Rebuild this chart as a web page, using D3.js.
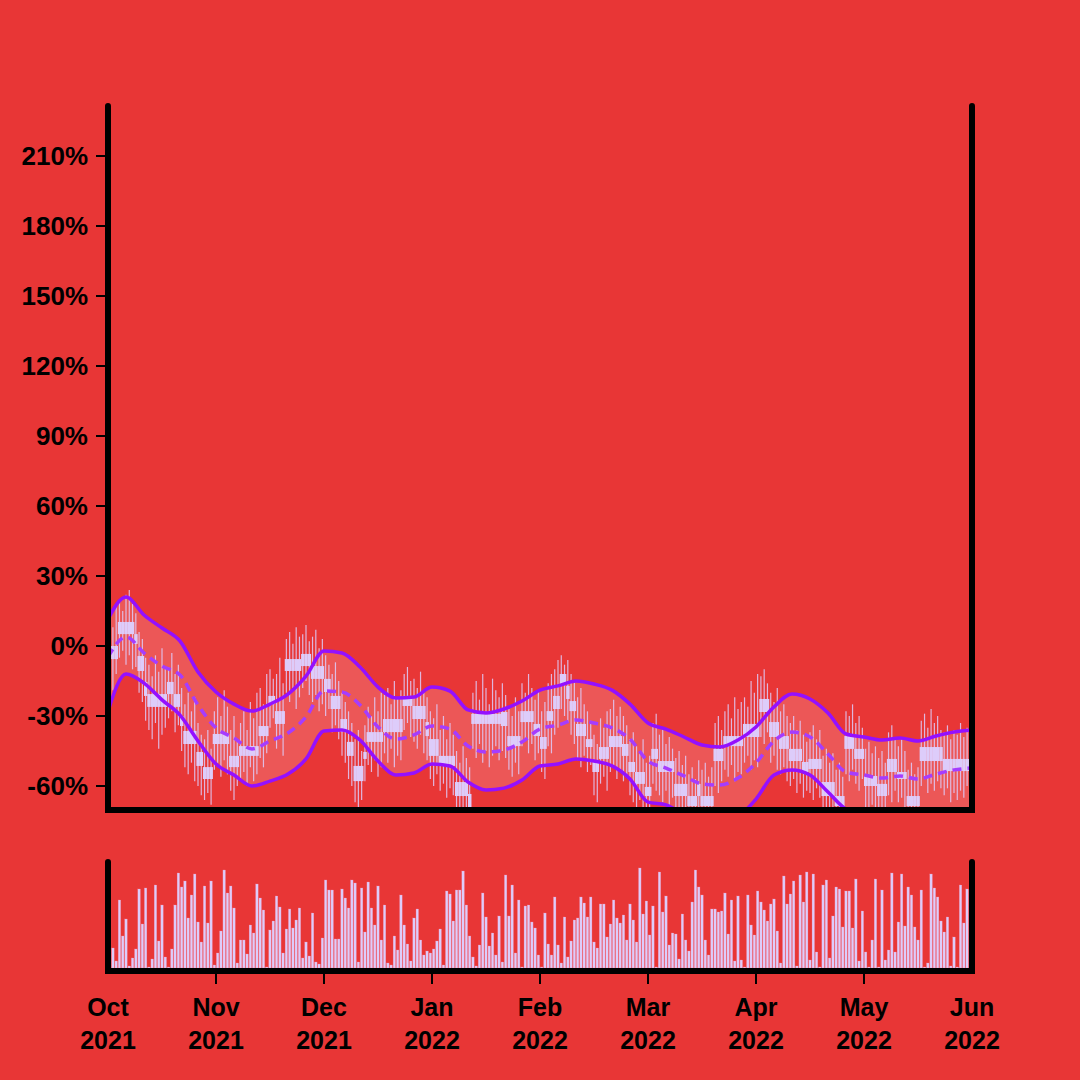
<!DOCTYPE html>
<html><head><meta charset="utf-8">
<script src="https://cdn.jsdelivr.net/npm/d3@7"></script>
<style>html,body{margin:0;padding:0;background:#e83636;}svg{display:block;}</style>
</head><body>
<svg id="c" width="1080" height="1080"></svg>
<script>
// ---- data ----
const months = ["Oct","Nov","Dec","Jan","Feb","Mar","Apr","May","Jun"];
const years  = ["2021","2021","2021","2022","2022","2022","2022","2022","2022"];
const yTicks = [-60,-30,0,30,60,90,120,150,180,210];
const barsPerMonth = 33;

const openV = [0,0,0,10.3,10.3,10.3,10.3,10.3,5.1,-4.3,-4.3,-15.4,-20.6,-20.6,-20.6,-20.6,-20.6,-20.6,-15.4,-15.4,
-20.6,-20.6,-30,-36.4,-36.4,-36.4,-36.4,-45.4,-45.4,-51.9,-51.9,-51.9,-37.7,-37.7,-37.7,-37.7,-37.7,-47.1,-47.1,-47.1,
-42.9,-42.9,-42.9,-42.9,-42.9,-42.9,-34.3,-34.3,-34.3,-21.4,-21.4,-27.9,-27.9,-27.9,-5.6,-5.6,-5.6,-5.6,-5.6,-3.4,
-3.4,-3.4,-8.6,-8.6,-8.6,-8.6,-14.1,-14.1,-21.4,-21.4,-21.4,-31.3,-31.3,-41.1,-41.1,-51.4,-51.4,-51.4,-45.4,-36.9,
-36.9,-36.9,-36.9,-36.9,-31.3,-31.3,-31.3,-31.3,-31.3,-31.3,-21.4,-21.4,-21.4,-25.7,-25.7,-25.7,-25.7,-32.6,-39.9,-39.9,
-39.9,-47.1,-47.1,-47.1,-47.1,-47.1,-58.3,-58.3,-58.3,-58.3,-63.4,-29.1,-29.1,-29.1,-29.1,-29.1,-29.1,-29.1,-29.1,-29.1,
-28.3,-28.3,-38.6,-38.6,-38.6,-38.6,-27.9,-27.9,-27.9,-27.9,-33.4,-33.4,-39,-39,-27.9,-27.9,-21.4,-21.4,-12,-12,
-17.1,-23.6,-23.6,-33.4,-33.4,-33.4,-39.9,-39.9,-49.7,-49.7,-43.3,-43.3,-43.3,-38.6,-38.6,-38.6,-38.6,-42,-42,-49.7,
-49.7,-54,-54,-54,-60.4,-60.4,-44.1,-44.1,-49.3,-49.3,-49.3,-49.3,-49.3,-59.1,-59.1,-59.1,-59.1,-64.3,-64.3,-64.3,
-59.1,-64.3,-64.3,-64.3,-64.3,-44.1,-44.1,-44.1,-38.6,-38.6,-38.6,-38.6,-38.6,-38.6,-33.4,-33.4,-33.4,-33.4,-33.4,-22.7,
-22.7,-22.7,-32.6,-32.6,-32.6,-38.6,-38.6,-38.6,-44.1,-44.1,-44.1,-44.1,-49.7,-49.7,-48.4,-48.4,-48.4,-48.4,-58.3,-58.3,
-58.3,-58.3,-64.3,-64.3,-64.3,-38.6,-38.6,-38.6,-44.1,-44.1,-44.1,-55.7,-55.7,-55.7,-55.7,-59.1,-59.1,-59.1,-48.4,-48.4,
-48.4,-54,-54,-54,-64.3,-64.3,-64.3,-64.3,-43.3,-43.3,-43.3,-43.3,-43.3,-43.3,-43.3,-48.4,-48.4,-48.4,-48.4,-48.4,
-48.4,-48.4,-48.4,-48.4];

const closeV = [-5.6,-5.6,-5.6,5.1,5.1,5.1,5.1,5.1,0.9,-10.7,-10.7,-21.4,-26.1,-26.1,-26.1,-26.1,-26.1,-26.1,-20.6,-20.6,
-26.1,-26.1,-34.3,-42,-42,-42,-42,-51.4,-51.4,-57,-57,-57,-42,-42,-42,-42,-42,-51.9,-51.9,-51.9,
-47.1,-47.1,-47.1,-47.1,-47.1,-47.1,-38.6,-38.6,-38.6,-24.9,-24.9,-33.4,-33.4,-33.4,-10.7,-10.7,-10.7,-10.7,-10.7,-8.6,
-8.6,-8.6,-14.1,-14.1,-14.1,-14.1,-19.7,-19.7,-27,-27,-27,-36.9,-36.9,-47.1,-47.1,-57.9,-57.9,-57.9,-48.4,-41.1,
-41.1,-41.1,-41.1,-41.1,-36.9,-36.9,-36.9,-36.9,-36.9,-36.9,-25.7,-25.7,-25.7,-31.3,-31.3,-31.3,-31.3,-38.6,-47.1,-47.1,
-47.1,-51.4,-51.4,-51.4,-51.4,-51.4,-64.3,-64.3,-64.3,-64.3,-69,-33.4,-33.4,-33.4,-33.4,-33.4,-33.4,-33.4,-33.4,-33.4,
-34.3,-34.3,-42.9,-42.9,-42.9,-42.9,-32.6,-32.6,-32.6,-32.6,-38.6,-38.6,-44.1,-44.1,-32.1,-32.1,-27,-27,-16.3,-16.3,
-22.7,-27.9,-27.9,-38.6,-38.6,-38.6,-43.3,-43.3,-54,-54,-48.4,-48.4,-48.4,-43.3,-43.3,-43.3,-43.3,-47.1,-47.1,-54,
-54,-59.1,-59.1,-59.1,-64.3,-64.3,-48.4,-48.4,-54,-54,-54,-54,-54,-64.3,-64.3,-64.3,-64.3,-68.6,-68.6,-68.6,
-64.3,-68.6,-68.6,-68.6,-68.6,-49.3,-49.3,-49.3,-42.9,-42.9,-42.9,-42.9,-42.9,-42.9,-39,-39,-39,-39,-39,-28.3,
-28.3,-28.3,-39,-39,-39,-44.1,-44.1,-44.1,-49.3,-49.3,-49.3,-49.3,-54,-54,-52.7,-52.7,-52.7,-52.7,-64.3,-64.3,
-64.3,-64.3,-68.6,-68.6,-68.6,-44.1,-44.1,-44.1,-48.4,-48.4,-48.4,-60,-60,-60,-60,-64.3,-64.3,-64.3,-54,-54,
-54,-57,-57,-57,-68.6,-68.6,-68.6,-68.6,-49.3,-49.3,-49.3,-49.3,-49.3,-49.3,-49.3,-53.6,-53.6,-53.6,-53.6,-53.6,
-53.6,-53.6,-53.6,-53.6];

const highV = [12,8,17,19,15,22,24,18,14,6,3,-5,-8,-13,-4,-11,-1,-9,-9,-3,
-12,-8,-18,-25,-20,-28,-22,-33,-38,-40,-36,-44,-28,-22,-30,-19,-26,-36,-30,-40,
-33,-28,-36,-24,-31,-20,-18,-25,-12,-10,-14,-12,-5,-16,3,6,1,8,4,5,
9,2,4,7,-1,3,-4,-8,-12,-7,-15,-20,-24,-28,-33,-40,-36,-45,-34,-26,
-30,-22,-28,-20,-21,-18,-25,-15,-22,-19,-12,-9,-15,-14,-18,-11,-20,-22,-28,-31,
-25,-36,-30,-40,-33,-38,-45,-50,-43,-48,-52,-20,-15,-23,-12,-18,-25,-14,-19,-22,
-16,-21,-27,-30,-22,-28,-16,-20,-12,-18,-23,-19,-28,-24,-16,-12,-10,-6,-4,-8,
-6,-12,-15,-22,-18,-25,-28,-32,-38,-42,-31,-35,-28,-27,-23,-30,-26,-30,-34,-40,
-37,-43,-46,-40,-50,-47,-33,-29,-38,-35,-42,-39,-44,-48,-45,-51,-47,-55,-52,-57,
-49,-53,-50,-56,-52,-33,-30,-36,-28,-25,-31,-22,-27,-24,-22,-26,-15,-20,-12,-13,
-10,-16,-20,-24,-18,-28,-25,-30,-33,-30,-36,-32,-38,-41,-37,-34,-40,-36,-47,-44,
-50,-46,-53,-50,-56,-28,-30,-25,-33,-30,-35,-44,-41,-46,-43,-48,-45,-50,-37,-34,
-40,-43,-40,-45,-53,-50,-55,-52,-32,-29,-35,-27,-33,-30,-36,-37,-34,-40,-36,-38,
-33,-39,-35,-30];

const lowV = [-14,-19,-12,-5,-2,-8,-4,-10,-9,-20,-24,-32,-36,-40,-33,-44,-38,-35,-31,-28,
-37,-34,-45,-52,-55,-50,-58,-60,-64,-66,-63,-68,-53,-50,-56,-49,-55,-62,-66,-60,
-57,-54,-60,-52,-58,-55,-48,-52,-46,-35,-31,-44,-40,-47,-20,-24,-18,-27,-22,-18,
-15,-21,-24,-21,-28,-25,-30,-27,-37,-34,-40,-47,-50,-57,-60,-67,-70,-66,-58,-51,
-54,-49,-56,-52,-46,-50,-44,-52,-47,-49,-36,-33,-39,-41,-44,-38,-46,-49,-57,-60,
-55,-62,-59,-65,-61,-64,-72,-70,-73,-71,-74,-44,-48,-42,-50,-45,-52,-47,-43,-49,
-45,-48,-53,-56,-50,-55,-43,-40,-46,-42,-49,-46,-54,-57,-43,-46,-38,-35,-27,-30,
-33,-38,-42,-49,-52,-47,-54,-51,-64,-67,-59,-56,-62,-54,-51,-57,-53,-58,-55,-64,
-67,-69,-66,-71,-72,-74,-59,-62,-64,-67,-62,-68,-65,-72,-74,-71,-73,-74,-73,-75,
-72,-74,-73,-75,-74,-60,-63,-58,-53,-56,-51,-58,-54,-55,-50,-47,-53,-49,-52,-39,
-42,-37,-50,-47,-53,-55,-52,-58,-60,-57,-63,-59,-65,-62,-63,-66,-61,-65,-72,-74,
-71,-73,-74,-73,-75,-55,-58,-53,-59,-62,-57,-69,-71,-68,-72,-72,-74,-73,-64,-67,
-62,-67,-65,-69,-74,-73,-75,-74,-60,-57,-63,-59,-62,-58,-61,-64,-61,-67,-63,-66,
-62,-65,-60,-64];

const volumeV = [53,20,7,68,32,49,2,10,19,79,44,80,1,9,83,27,63,11,1,19,
63,95,81,87,50,73,94,46,26,82,45,87,3,15,37,98,75,82,60,5,
28,28,14,43,35,84,70,58,1,38,47,72,61,15,39,59,40,48,60,10,
26,12,55,6,4,30,88,78,78,29,29,79,70,60,88,85,6,80,36,86,
60,43,82,28,63,5,3,32,18,73,43,24,7,50,59,28,13,17,15,19,
27,39,3,77,74,47,78,78,97,63,32,11,2,23,75,51,22,35,13,52,
6,93,52,83,15,68,1,62,63,46,40,13,1,55,24,13,71,23,5,51,
11,27,48,50,71,65,51,71,26,20,64,64,31,44,68,50,45,53,28,64,
48,26,100,54,67,33,62,1,96,56,72,23,35,34,9,54,28,17,66,98,
81,73,28,13,59,59,56,57,75,34,68,7,72,8,1,73,43,33,77,66,
58,47,64,69,37,5,92,64,74,87,2,93,66,96,8,94,16,1,83,88,
10,52,81,79,41,77,77,40,89,7,57,16,1,28,89,1,78,8,18,95,
16,46,94,42,81,73,41,28,78,1,5,94,80,71,47,36,51,2,31,1,
83,45,79,98];

// band values sampled every 5.5 bars
const bandStep = 5.5;
const upperBand = [11.6,21,13.3,7.7,2.1,-11.1,-19.7,-24.9,-27.9,-24.9,-20.6,-12.9,-2.1,-3,-9,-17.6,-22.3,-21.9,-17.6,-19.3,
-27.4,-28.7,-27,-23.6,-18.9,-17.1,-15,-16.3,-18.9,-24.9,-33,-35.6,-39,-42.4,-43.3,-40.3,-34.7,-26.1,-20.6,-22.7,
-28.7,-37.7,-39,-40.3,-39.4,-40.7,-38.6,-36.9,-36];
const middleBand = [-4.7,3.9,-3,-8.6,-12.4,-25.3,-35.1,-39.4,-44.1,-40.7,-37.3,-30.4,-19.3,-19.7,-25.3,-34.7,-39.9,-38.1,-34.3,-35.6,
-42.9,-45.4,-44.6,-41.1,-35.6,-33.9,-31.7,-33,-35.1,-39.9,-49.3,-52.3,-55.7,-59.1,-59.6,-56.6,-50.1,-40.7,-36.9,-39,
-46.3,-54,-55.3,-56.6,-55.7,-57,-54.9,-53.1,-52.3];
const lowerBand = [-27.9,-12,-15.9,-23.1,-29.6,-40.7,-50.6,-55.3,-60,-57.9,-54.9,-48.4,-36.4,-36,-40.3,-49.3,-55.3,-54.4,-50.6,-51.4,
-58.3,-61.7,-60.9,-57.4,-51.4,-50.6,-48.4,-49.3,-51.4,-57,-66.9,-68.1,-72,-75,-76.3,-73.3,-65.6,-55.3,-53.1,-55.3,
-62.6,-69.9,-72,-73.3,-72,-74.1,-71.1,-72,-72];

// ---- drawing ----
const svg = d3.select("#c");
const N = volumeV.length;
const L = 108, R = 972, T = 106, B = 810;
const VT = 862, VB = 971;
const FONT = "'Liberation Sans', Arial, Helvetica, sans-serif";

const x = d3.scaleLinear().domain([0, N]).range([L, R]);
const y = d3.scaleLinear().domain([-60, 210]).range([786, 156]);
const yv = d3.scaleLinear().domain([0, 100]).range([968, 868]);

svg.append("rect").attr("width",1080).attr("height",1080).attr("fill","#e83636");

const defs = svg.append("defs");
defs.append("clipPath").attr("id","clipMain").append("rect")
  .attr("x",L).attr("y",T).attr("width",R-L).attr("height",B-T);

const main = svg.append("g").attr("clip-path","url(#clipMain)");

const bandIdx = upperBand.map((_,k)=>k*bandStep);
const bandData = bandIdx.map((b,k)=>({b, u:upperBand[k], m:middleBand[k], l:lowerBand[k]}));

main.append("path").datum(bandData)
  .attr("d", d3.area().x(d=>x(d.b)).y0(d=>y(d.l)).y1(d=>y(d.u)).curve(d3.curveMonotoneX))
  .attr("fill","#ffffff").attr("fill-opacity",0.17);

const days = d3.range(N);
const step = x(1)-x(0);
const candleColor = "#ddccfa";

main.selectAll("line.wick").data(days).join("line")
  .attr("class","wick")
  .attr("x1",i=>x(i+0.5)).attr("x2",i=>x(i+0.5))
  .attr("y1",i=>y(highV[i])).attr("y2",i=>y(lowV[i]))
  .attr("stroke",candleColor).attr("stroke-opacity",0.85).attr("stroke-width",1.2);

main.selectAll("rect.body").data(days).join("rect")
  .attr("class","body")
  .attr("x",i=>x(i)).attr("width",step+0.2)
  .attr("y",i=>y(Math.max(openV[i],closeV[i])))
  .attr("height",i=>Math.abs(y(openV[i])-y(closeV[i])))
  .attr("fill",candleColor);

const lineGen = key => d3.line().x(d=>x(d.b)).y(d=>y(d[key])).curve(d3.curveMonotoneX);
main.append("path").datum(bandData).attr("d",lineGen("u"))
  .attr("fill","none").attr("stroke","#9410ff").attr("stroke-width",3.5);
main.append("path").datum(bandData).attr("d",lineGen("l"))
  .attr("fill","none").attr("stroke","#9410ff").attr("stroke-width",3.5);
main.append("path").datum(bandData).attr("d",lineGen("m"))
  .attr("fill","none").attr("stroke","#a53cff").attr("stroke-width",3.5)
  .attr("stroke-dasharray","9,6");

// volume bars
svg.append("g").selectAll("rect").data(days).join("rect")
  .attr("x",i=>x(i+0.5)-step*0.38).attr("width",step*0.76)
  .attr("y",i=>yv(volumeV[i])).attr("height",i=>yv(0)-yv(volumeV[i]))
  .attr("fill",candleColor).attr("stroke","#f08aa8").attr("stroke-width",0.3);

// frames
const frame = svg.append("g").attr("stroke","#000").attr("stroke-width",6)
  .attr("stroke-linecap","round").attr("fill","none");
frame.append("path").attr("d",`M${L},${T}V${B}H${R}V${T}`);
frame.append("path").attr("d",`M${L},${VT}V${VB}H${R}V${VT}`);

// y axis ticks & labels
const yAxis = svg.append("g");
yAxis.selectAll("line").data(yTicks).join("line")
  .attr("x1",96).attr("x2",L).attr("y1",d=>y(d)).attr("y2",d=>y(d))
  .attr("stroke","#000").attr("stroke-width",2);
yAxis.selectAll("text").data(yTicks).join("text")
  .attr("x",88).attr("y",d=>y(d)).attr("dy","0.36em")
  .attr("text-anchor","end")
  .attr("font-family",FONT)
  .attr("font-weight","bold").attr("font-size",26).attr("fill","#000")
  .text(d=>d+"%");

// x axis ticks & labels
const mIdx = months.map((_,k)=>k*barsPerMonth);
const xAxis = svg.append("g");
xAxis.selectAll("line").data(mIdx.slice(1,-1)).join("line")
  .attr("x1",d=>x(d)).attr("x2",d=>x(d)).attr("y1",VB).attr("y2",984)
  .attr("stroke","#000").attr("stroke-width",2);
const xt = xAxis.selectAll("text").data(mIdx).join("text")
  .attr("text-anchor","middle")
  .attr("font-family",FONT)
  .attr("font-weight","bold").attr("font-size",25).attr("fill","#000");
xt.append("tspan").attr("x",d=>x(d)).attr("y",1016).text((d,k)=>months[k]);
xt.append("tspan").attr("x",d=>x(d)).attr("y",1049).text((d,k)=>years[k]);
</script>
</body></html>
